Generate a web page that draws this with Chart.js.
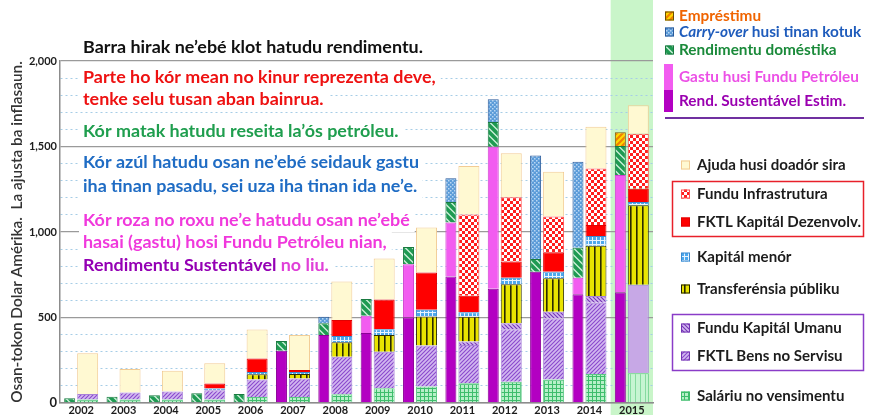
<!DOCTYPE html>
<html><head><meta charset="utf-8">
<script src="https://cdn.jsdelivr.net/npm/chart.js@4.4.1/dist/chart.umd.min.js"></script>
<style>html,body{margin:0;padding:0;background:#fff;overflow:hidden}#wrap{width:877px;height:415px;position:relative}</style>
</head><body><div id="wrap"><canvas id="c" width="877" height="415"></canvas></div>
<script>
// ---------- DATA (millions of US$, inflation-adjusted) ----------
const years = ['2002','2003','2004','2005','2006','2007','2008','2009','2010','2011','2012','2013','2014','2015'];
const highlightYear = '2015';
// revenue (narrow bars)
const rendSustentavel = [0,0,0,0,0,306,398,410,502,740,668,768,636,647];
const gastuFunduPetroleu = [0,0,0,0,0,0,0,100,309,315,830,0,97,686];
const rendDomestika = [28,37,45,57,53,56,68,98,101,120,145,74,175,170];
const carryOver = [0,0,0,0,0,0,39,0,0,140,133,605,503,0];
const emprestimu = [0,0,0,0,0,0,0,0,0,0,0,0,0,80];
// spending (wide bars)
const salariu = [20,20,20,20,35,35,51,86,96,115,125,138,170,174];
const fktlBens = [33,41,47,55,102,108,220,214,240,224,306,356,416,518];
const funduKapitalUmanu = [0,0,0,0,0,0,0,0,0,20,35,40,40,0];
const transferensia = [0,0,0,0,31,26,84,97,170,146,228,195,294,464];
const kapitalMenor = [0,0,0,10,14,12,37,35,39,25,39,39,57,19];
const fktlKapDezenv = [0,0,0,29,78,12,94,173,218,97,94,113,64,78];
const funduInfra = [0,0,0,0,0,0,0,0,0,476,376,209,331,322];
const ajudaDoador = [238,138,122,119,170,205,224,240,263,283,257,263,244,166];
const yTickLabels = {0:'0',500:'500',1000:'1,000',1500:'1,500',2000:'2,000'};

// ---------- STYLE ----------
const FAM = 'Lato, "Open Sans", "DejaVu Sans", sans-serif';
const AREA_L = 60, AREA_R = 653, AREA_T = 61, AREA_B = 403, W = 877, H = 415;
const S = (AREA_R - AREA_L) / years.length;
const revGeom = {categoryPercentage: 46 / S, barPercentage: 11 / 23};
const spendGeom = {categoryPercentage: 26 / S, barPercentage: 21 / 13};

const pctx = document.createElement('canvas').getContext('2d');
function makePattern(w, h, draw) {
  const c = document.createElement('canvas'); c.width = w; c.height = h;
  const g = c.getContext('2d'); draw(g, w, h);
  return pctx.createPattern(c, 'repeat');
}
function diag(bg, fg, s, lw, dir) {
  return makePattern(s, s, (g) => {
    g.fillStyle = bg; g.fillRect(0, 0, s, s);
    g.strokeStyle = fg; g.lineWidth = lw; g.beginPath();
    if (dir > 0) {
      g.moveTo(-s, s); g.lineTo(s, -s); g.moveTo(0, s); g.lineTo(s, 0); g.moveTo(0, 2*s); g.lineTo(2*s, 0);
    } else {
      g.moveTo(-s, 0); g.lineTo(s, 2*s); g.moveTo(0, 0); g.lineTo(s, s); g.moveTo(0, -s); g.lineTo(2*s, s);
    }
    g.stroke();
  });
}
const pEmp = diag('#ffd800', '#f08000', 6, 2.2, 1);
const pCarry = makePattern(4, 4, (g) => { g.fillStyle = '#5b9bd8'; g.fillRect(0,0,4,4); g.fillStyle = '#b9d7f4'; g.fillRect(0,0,1.5,1.5); g.fillRect(2,2,1.5,1.5); });
const pDom = diag('#cdf0da', '#1e9a52', 7, 3.6, -1);
const pSal = makePattern(4, 4, (g) => { g.fillStyle = '#b6f0c8'; g.fillRect(0,0,4,4); g.fillStyle = '#3ebd6c'; g.fillRect(0,0,4,1); g.fillRect(0,0,1,4); });
const pSal15 = makePattern(5, 1, (g) => { g.fillStyle = '#c6f5d2'; g.fillRect(0,0,5,1); g.fillStyle = '#86dba0'; g.fillRect(0,0,1,1); });
const pBens = diag('#d2b8f0', '#8a48cc', 4, 1.1, 1);
const pUmanu = diag('#d2b8f0', '#7434b4', 4, 1.1, -1);
const pTrans = makePattern(6, 1, (g) => { g.fillStyle = '#e9e400'; g.fillRect(0,0,6,1); g.fillStyle = '#2a2a00'; g.fillRect(0,0,1.6,1); });
const pKapMen = makePattern(4, 4, (g) => { g.fillStyle = '#4ea8ec'; g.fillRect(0,0,4,4); g.fillStyle = '#e8f4ff'; g.fillRect(0,0,4,1); g.fillRect(0,0,1,4); });
const pInfra = makePattern(6, 6, (g) => { g.fillStyle = '#ff1e1e'; g.fillRect(0,0,6,6); g.fillStyle = '#ffffff'; g.fillRect(0,0,3,3); g.fillRect(3,3,3,3); });
const cAjuda = '#fff9d2', cKapDez = '#ff0000', cSust = '#b300c2', cGastu = '#f25cf0';

const hIdx = years.indexOf(highlightYear);
function ds(label, data, stack, bg, border) {
  return Object.assign({label, data, stack, backgroundColor: bg, borderColor: border, borderWidth: 1},
    stack === 'rev' ? revGeom : spendGeom);
}
const datasets = [
  ds('Rend. Sustentável Estim.', rendSustentavel, 'rev', cSust, '#8a0096'),
  ds('Gastu husi Fundu Petróleu', gastuFunduPetroleu, 'rev', cGastu, '#d040d0'),
  ds('Rendimentu doméstika', rendDomestika, 'rev', pDom, '#1a7a40'),
  ds('Carry-over husi tinan kotuk', carryOver, 'rev', pCarry, '#2a5a9a'),
  ds('Empréstimu', emprestimu, 'rev', pEmp, '#7a5a00'),
  ds('Saláriu no vensimentu', salariu, 'spend', (c) => c.dataIndex === hIdx ? pSal15 : pSal, '#5cc884'),
  ds('FKTL Bens no Servisu', fktlBens, 'spend', (c) => c.dataIndex === hIdx ? '#c7a8e6' : pBens, '#a880d8'),
  ds('Fundu Kapitál Umanu', funduKapitalUmanu, 'spend', pUmanu, '#a880d8'),
  ds('Transferénsia públiku', transferensia, 'spend', pTrans, '#303000'),
  ds('Kapitál menór', kapitalMenor, 'spend', pKapMen, '#3a8ad0'),
  ds('FKTL Kapitál Dezenvolv.', fktlKapDezenv, 'spend', cKapDez, '#e00000'),
  ds('Fundu Infrastrutura', funduInfra, 'spend', pInfra, '#ff5050'),
  ds('Ajuda husi doadór sira', ajudaDoador, 'spend', cAjuda, '#f2cc94'),
];

// ---------- TEXT HELPERS ----------
const mctx = document.createElement('canvas').getContext('2d');
function textW(t, font) { mctx.font = font; return mctx.measureText(t).width; }
function fit(t, weight, target) { return 100 * target / textW(t, weight + ' 100px ' + FAM); }
function median(a) { const b = [...a].sort((p, q) => p - q); return b[Math.floor(b.length / 2)]; }

const notes = [
  {y: 47, w: 330, segs: [['Barra hirak ne’ebé klot hatudu rendimentu.', '#111111']]},
  {y: 77, w: 344, segs: [['Parte ho kór mean no kinur reprezenta deve,', '#ee1111']]},
  {y: 99, w: 252, segs: [['tenke selu tusan aban bainrua.', '#ee1111']]},
  {y: 131, w: 317, segs: [['Kór matak hatudu reseita la’ós petróleu.', '#1f9e4e']]},
  {y: 162, w: 335, segs: [['Kór azúl hatudu osan ne’ebé seidauk gastu', '#1f6cc4']]},
  {y: 186, w: 339, segs: [['iha tinan pasadu, sei uza iha tinan ida ne’e.', '#1f6cc4']]},
  {y: 220, w: 327, segs: [['Kór roza no roxu ne’e hatudu osan ne’ebé', '#f038dc']]},
  {y: 242, w: 302, segs: [['hasai (gastu) hosi Fundu Petróleu nian,', '#f038dc']]},
  {y: 265, w: 247, segs: [['Rendimentu Sustentável', '#9400b4'], [' no liu.', '#e040d8']]},
];
const noteSize = median(notes.map(n => fit(n.segs.map(s => s[0]).join(''), 'bold', n.w)));

const legTop = [
  {y: 16, sw: pEmp, bc: '#6a5000', segs: [['Empréstimu', '#f06400', 'bold']]},
  {y: 32, sw: pCarry, bc: '#2a5a9a', segs: [['Carry-over', '#1f5cbc', 'italic bold'], [' husi tinan kotuk', '#1f5cbc', 'bold']]},
  {y: 50, sw: pDom, bc: '#1a7a40', segs: [['Rendimentu doméstika', '#1a8a3a', 'bold']]},
  {y: 77, sw: null, segs: [['Gastu husi Fundu Petróleu', '#ec50e6', 'bold']]},
  {y: 101, sw: null, segs: [['Rend. Sustentável Estim.', '#9a00b0', 'bold']]},
];
const legTopSize = median([fit('Empréstimu', 'bold', 80), fit('Rendimentu doméstika', 'bold', 146), fit('Gastu husi Fundu Petróleu', 'bold', 180), fit('Rend. Sustentável Estim.', 'bold', 170)]);

const legBot = [
  {y: 165, sw: cAjuda, bc: '#f2cc94', t: 'Ajuda husi doadór sira'},
  {y: 194, sw: pInfra, bc: '#ff5050', t: 'Fundu Infrastrutura'},
  {y: 222, sw: cKapDez, bc: '#e00000', t: 'FKTL Kapitál Dezenvolv.'},
  {y: 257, sw: pKapMen, bc: '#3a8ad0', t: 'Kapitál menór'},
  {y: 289, sw: pTrans, bc: '#202000', t: 'Transferénsia públiku'},
  {y: 328, sw: pUmanu, bc: '#7434b4', t: 'Fundu Kapitál Umanu'},
  {y: 356, sw: pBens, bc: '#7434b4', t: 'FKTL Bens no Servisu'},
  {y: 396, sw: pSal, bc: '#3ebd6c', t: 'Saláriu no vensimentu'},
];
const legBotSize = median([fit('Ajuda husi doadór sira', 'bold', 147), fit('FKTL Kapitál Dezenvolv.', 'bold', 159), fit('Saláriu no vensimentu', 'bold', 151), fit('Fundu Kapitál Umanu', 'bold', 145)]);

const yTitle = 'Osan-tokon Dolar Amérika.  La ajusta ba inflasaun.';
const yTitleSize = fit(yTitle, '600', 342);

function drawSegs(ctx, x, y, segs, size, defWeight) {
  let cx = x;
  for (const s of segs) {
    ctx.font = (s[2] || defWeight) + ' ' + size + 'px ' + FAM;
    ctx.fillStyle = s[1];
    ctx.fillText(s[0], cx, y);
    cx += ctx.measureText(s[0]).width;
  }
  return cx - x;
}

const decor = {
  id: 'decor',
  beforeDraw(chart) {
    const {ctx, scales: {x}} = chart;
    const cx = x.getPixelForValue(hIdx);
    const half = (x.getPixelForValue(1) - x.getPixelForValue(0)) / 2;
    ctx.save();
    ctx.fillStyle = '#c9f5c9';
    ctx.fillRect(cx - half, 0, half * 2, H);
    ctx.restore();
  },
  beforeDatasetsDraw(chart) {
    const ctx = chart.ctx;
    ctx.save();
    ctx.textBaseline = 'middle';
    ctx.textAlign = 'left';
    for (const n of notes) {
      ctx.font = 'bold ' + noteSize + 'px ' + FAM;
      const w = ctx.measureText(n.segs.map(s => s[0]).join('')).width;
      ctx.fillStyle = '#ffffff';
      ctx.fillRect(79, n.y - 12, w + 9, 24);
    }
    for (const n of notes) drawSegs(ctx, 83, n.y, n.segs, noteSize, 'bold');
    ctx.restore();
  },
  afterDraw(chart) {
    const ctx = chart.ctx;
    ctx.save();
    ctx.textBaseline = 'middle';
    ctx.textAlign = 'left';
    // top legend (revenue)
    for (const it of legTop) {
      if (it.sw) {
        ctx.fillStyle = it.sw; ctx.fillRect(665, it.y - 4.5, 9, 9);
        ctx.strokeStyle = it.bc; ctx.lineWidth = 1; ctx.strokeRect(665.5, it.y - 4, 8, 8);
      }
      drawSegs(ctx, 679, it.y, it.segs, legTopSize, 'bold');
    }
    ctx.fillStyle = cGastu; ctx.fillRect(664, 64, 9, 26);
    ctx.fillStyle = cSust; ctx.fillRect(664, 90, 9, 22);
    ctx.strokeStyle = '#7030a0'; ctx.lineWidth = 2;
    ctx.beginPath(); ctx.moveTo(665, 118); ctx.lineTo(864, 118); ctx.stroke();
    // bottom legend (spending)
    for (const it of legBot) {
      ctx.fillStyle = it.sw; ctx.fillRect(681, it.y - 4.5, 9, 9);
      ctx.strokeStyle = it.bc; ctx.lineWidth = 1; ctx.strokeRect(681.5, it.y - 4, 8, 8);
      drawSegs(ctx, 697, it.y, [[it.t, '#1c1c1c']], legBotSize, 'bold');
    }
    ctx.lineWidth = 1.5;
    ctx.strokeStyle = '#e8202a'; ctx.strokeRect(672.5, 181.5, 191, 55);
    ctx.strokeStyle = '#8a3cc8'; ctx.strokeRect(672.5, 314.5, 191, 56);
    ctx.restore();
  }
};

new Chart(document.getElementById('c'), {
  type: 'bar',
  data: {labels: years, datasets},
  plugins: [decor],
  options: {
    responsive: false,
    animation: false,
    devicePixelRatio: 1,
    layout: {padding: {left: 0, top: AREA_T, right: W - AREA_R, bottom: 0}},
    plugins: {legend: {display: false}, tooltip: {enabled: false}, title: {display: false}},
    scales: {
      x: {
        type: 'category',
        stacked: true,
        grid: {display: false, drawTicks: false},
        border: {display: true, color: '#8c8c8c', width: 1.5},
        ticks: {autoSkip: false, maxRotation: 0, padding: 1, color: '#1c1c1c', font: {family: FAM, size: 11, weight: 'bold'}},
        afterFit: (s) => { s.height = H - AREA_B; }
      },
      y: {
        stacked: true,
        min: 0, max: 2000,
        grid: {
          drawTicks: false,
          color: (c) => (c.tick && c.tick.value % 500 === 0) ? '#9a9a9a' : '#a6cde6',
          lineWidth: (c) => (c.tick && c.tick.value % 500 === 0) ? 1.3 : 1
        },
        border: {display: true, color: '#8c8c8c', width: 1.5, dash: (c) => (c.tick && c.tick.value % 500 !== 0) ? [2, 3] : []},
        ticks: {
          stepSize: 100, autoSkip: false, padding: 3, color: '#1c1c1c',
          font: (c) => ({family: FAM, size: (c.tick && c.tick.value === 0) ? 13 : 11, weight: 'bold'}),
          callback: (v) => yTickLabels[v] !== undefined ? yTickLabels[v] : ''
        },
        title: {display: true, text: yTitle, color: '#333', font: {family: FAM, size: yTitleSize, weight: '600'}, padding: {top: 8, bottom: 0}},
        afterFit: (s) => { s.width = AREA_L; }
      }
    }
  }
});
</script></body></html>
